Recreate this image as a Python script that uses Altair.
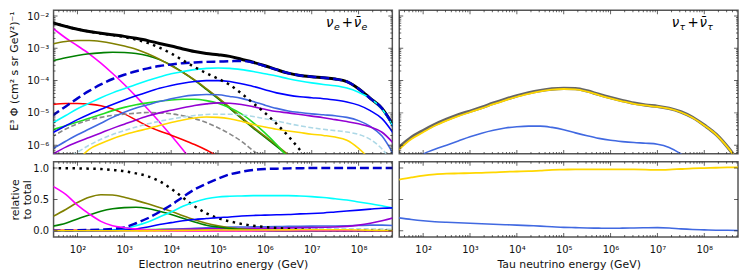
import altair as alt
import pandas as pd

# ---------------- data (log10 E grid and log10 flux values) ----------------
G = [1.45, 1.75, 2.0, 2.25, 2.5, 2.75, 3.0, 3.25, 3.5, 3.75, 4.0, 4.25, 4.5, 4.75,
     5.0, 5.25, 5.5, 5.75, 6.0, 6.25, 6.5, 6.75, 7.0, 7.25, 7.5, 7.75, 8.0, 8.25, 8.5, 8.75]

# electron neutrinos, E^3 Phi (log10), each list starts at the given grid value
E_TOTAL = (1.45, [-2.20, -2.32, -2.41, -2.48, -2.53, -2.58, -2.63, -2.69, -2.76, -2.85, -2.93, -3.02, -3.10, -3.16,
                  -3.20, -3.25, -3.34, -3.43, -3.54, -3.66, -3.77, -3.84, -3.88, -3.91, -3.95, -4.03, -4.25, -4.55,
                  -4.86, -5.42])
E_ASTRO = (1.45, [-5.10, -4.80, -4.55, -4.32, -4.12, -3.95, -3.82, -3.71, -3.62, -3.55, -3.50, -3.46, -3.44, -3.42,
                  -3.41, -3.40, -3.39, -3.44, -3.55, -3.66, -3.77, -3.84, -3.88, -3.91, -3.95, -4.03, -4.25, -4.55,
                  -4.86, -5.42])
E_CONV = (1.45, [-2.20, -2.32, -2.41, -2.48, -2.54, -2.59, -2.65, -2.73, -2.83, -2.98, -3.16, -3.37, -3.58, -3.77,
                 -3.94, -4.13, -4.40, -4.70, -5.00, -5.34, -5.72, -6.15, -6.60])
E_MAGENTA = (1.45, [-2.35, -2.68, -2.92, -3.17, -3.46, -3.78, -4.12, -4.49, -4.88, -5.28, -5.70, -6.14, -6.60])
E_OLIVE = (1.45, [-2.87, -2.79, -2.76, -2.76, -2.79, -2.85, -2.93, -3.03, -3.17, -3.34, -3.54, -3.75, -3.98, -4.25,
                  -4.53, -4.83, -5.14, -5.44, -5.72, -6.00, -6.30, -6.60])
E_DGREEN = (1.45, [-3.39, -3.29, -3.22, -3.17, -3.14, -3.12, -3.13, -3.16, -3.23, -3.35, -3.52, -3.74, -3.99, -4.27,
                   -4.56, -4.86, -5.17, -5.47, -5.75, -6.04, -6.34, -6.65])
E_RED = (1.45, [-4.74, -4.71, -4.71, -4.73, -4.78, -4.88, -5.03, -5.22, -5.41, -5.56, -5.69, -5.83, -5.98, -6.15,
                -6.35, -6.55])
E_CYAN = (1.45, [-5.33, -5.08, -4.87, -4.70, -4.53, -4.38, -4.25, -4.12, -4.00, -3.89, -3.79, -3.72, -3.66, -3.62,
                 -3.61, -3.62, -3.66, -3.72, -3.79, -3.86, -3.94, -4.01, -4.07, -4.12, -4.16, -4.23, -4.36, -4.55,
                 -4.88, -5.45])
E_BLUE = (1.45, [-5.63, -5.40, -5.21, -5.04, -4.89, -4.74, -4.60, -4.47, -4.35, -4.24, -4.15, -4.08, -4.03, -4.00,
                 -4.00, -4.03, -4.10, -4.18, -4.28, -4.38, -4.45, -4.50, -4.53, -4.56, -4.60, -4.66, -4.76, -4.93,
                 -5.18, -5.65])
E_LIME = (1.45, [-5.53, -5.40, -5.28, -5.17, -5.05, -4.93, -4.83, -4.75, -4.69, -4.64, -4.60, -4.58, -4.58, -4.62,
                 -4.70, -4.84, -5.03, -5.30, -5.62, -5.98, -6.40])
E_ROYAL = (1.45, [-6.13, -5.88, -5.68, -5.50, -5.32, -5.14, -4.98, -4.85, -4.75, -4.65, -4.56, -4.49, -4.45, -4.43,
                  -4.44, -4.49, -4.55, -4.65, -4.76, -4.86, -4.94, -4.99, -5.03, -5.06, -5.09, -5.14, -5.24, -5.42,
                  -5.72, -6.30])
E_PURPLE = (1.45, [-6.30, -6.06, -5.90, -5.76, -5.62, -5.48, -5.35, -5.22, -5.10, -5.00, -4.92, -4.84, -4.77, -4.72,
                   -4.69, -4.70, -4.74, -4.81, -4.89, -4.96, -5.00, -5.05, -5.10, -5.15, -5.21, -5.27, -5.34, -5.44,
                   -5.60, -5.95])
E_GRAY = (1.45, [-5.75, -5.50, -5.34, -5.22, -5.14, -5.08, -5.04, -5.01, -4.99, -5.00, -5.03, -5.09, -5.18, -5.30,
                 -5.46, -5.65, -5.88, -6.17, -6.45])
E_LBLUE = (1.75, [-6.45, -6.22, -6.00, -5.82, -5.67, -5.55, -5.44, -5.34, -5.26, -5.19, -5.13, -5.08, -5.05, -5.04,
                  -5.04, -5.06, -5.11, -5.18, -5.25, -5.33, -5.40, -5.46, -5.51, -5.55, -5.59, -5.67, -5.82, -6.12,
                  -6.60])
E_GOLD = (2.0, [-6.48, -6.13, -5.95, -5.80, -5.68, -5.58, -5.49, -5.39, -5.30, -5.22, -5.16, -5.13, -5.14, -5.18,
                -5.26, -5.36, -5.44, -5.51, -5.56, -5.61, -5.66, -5.70, -5.75, -5.85, -6.10, -6.45])

# electron neutrinos, relative to total
R_CONV = [0.999, 0.997, 0.995, 0.99, 0.985, 0.97, 0.95, 0.915, 0.87, 0.79, 0.67, 0.53, 0.39, 0.28, 0.20, 0.15,
          0.11, 0.08, 0.06, 0.045, 0.03, 0.02, 0.015, 0.01, 0.005, 0.003, 0.002, 0.001, 0.0, 0.0]
R_ASTRO = [0.001, 0.004, 0.008, 0.013, 0.02, 0.03, 0.055, 0.12, 0.20, 0.30, 0.41, 0.54, 0.66, 0.75, 0.83, 0.90,
           0.94, 0.97, 0.985, 0.99, 0.995, 0.998, 1.0, 1.0, 1.0, 1.0, 1.0, 1.0, 1.0, 1.0]
R_MAGENTA = [0.72, 0.58, 0.41, 0.27, 0.15, 0.08, 0.05, 0.03, 0.015, 0.008, 0.003, 0.001, 0.0, 0.0, 0.0, 0.0,
             0.0, 0.0, 0.0, 0.0, 0.0, 0.0, 0.0, 0.0, 0.0, 0.0, 0.0, 0.0, 0.0, 0.0]
R_OLIVE = [0.22, 0.34, 0.45, 0.535, 0.575, 0.57, 0.535, 0.485, 0.43, 0.37, 0.31, 0.24, 0.175, 0.12, 0.08, 0.05,
           0.03, 0.015, 0.008, 0.004, 0.002, 0.0, 0.0, 0.0, 0.0, 0.0, 0.0, 0.0, 0.0, 0.0]
R_DGREEN = [0.07, 0.12, 0.19, 0.25, 0.31, 0.35, 0.37, 0.375, 0.355, 0.31, 0.26, 0.20, 0.14, 0.09, 0.06, 0.035,
            0.02, 0.01, 0.005, 0.002, 0.0, 0.0, 0.0, 0.0, 0.0, 0.0, 0.0, 0.0, 0.0, 0.0]
R_CYAN = [0.0, 0.001, 0.002, 0.004, 0.008, 0.015, 0.035, 0.08, 0.14, 0.22, 0.30, 0.39, 0.46, 0.51, 0.54, 0.55,
          0.555, 0.56, 0.56, 0.56, 0.56, 0.555, 0.545, 0.53, 0.51, 0.49, 0.46, 0.43, 0.40, 0.36]
R_BLUE = [0.0, 0.001, 0.002, 0.003, 0.004, 0.006, 0.012, 0.03, 0.06, 0.10, 0.13, 0.16, 0.18, 0.195, 0.21, 0.22,
          0.235, 0.245, 0.25, 0.255, 0.26, 0.27, 0.275, 0.285, 0.30, 0.315, 0.33, 0.345, 0.36, 0.365]
R_ROYAL = [0.0, 0.0, 0.001, 0.002, 0.003, 0.004, 0.006, 0.008, 0.012, 0.018, 0.025, 0.033, 0.04, 0.047, 0.055,
           0.058, 0.06, 0.062, 0.063, 0.066, 0.07, 0.073, 0.075, 0.076, 0.077, 0.08, 0.085, 0.09, 0.09, 0.085]
R_PURPLE = [0.0, 0.0, 0.0, 0.001, 0.002, 0.003, 0.005, 0.008, 0.012, 0.016, 0.02, 0.024, 0.027, 0.03, 0.032,
            0.034, 0.036, 0.038, 0.04, 0.043, 0.047, 0.05, 0.053, 0.056, 0.06, 0.07, 0.09, 0.12, 0.16, 0.21]
R_LIME = [0.0, 0.001, 0.001, 0.002, 0.004, 0.006, 0.01, 0.015, 0.02, 0.022, 0.024, 0.027, 0.03, 0.031, 0.03,
          0.027, 0.022, 0.015, 0.008, 0.004, 0.001, 0.0, 0.0, 0.0, 0.0, 0.0, 0.0, 0.0, 0.0, 0.0]
R_RED = [0.006, 0.008, 0.008, 0.007, 0.006, 0.005, 0.004, 0.003, 0.002, 0.002, 0.001, 0.001, 0.001, 0.0, 0.0,
         0.0, 0.0, 0.0, 0.0, 0.0, 0.0, 0.0, 0.0, 0.0, 0.0, 0.0, 0.0, 0.0, 0.0, 0.0]
R_GRAY = [0.0005, 0.001, 0.001, 0.002, 0.002, 0.003, 0.004, 0.006, 0.008, 0.01, 0.011, 0.012, 0.012, 0.011,
          0.009, 0.007, 0.005, 0.003, 0.002, 0.001, 0.0, 0.0, 0.0, 0.0, 0.0, 0.0, 0.0, 0.0, 0.0, 0.0]
R_LBLUE = [0.0, 0.0, 0.0, 0.001, 0.001, 0.001, 0.002, 0.003, 0.004, 0.005, 0.006, 0.008, 0.01, 0.012, 0.014,
           0.016, 0.018, 0.019, 0.02, 0.022, 0.024, 0.027, 0.029, 0.031, 0.032, 0.033, 0.032, 0.03, 0.027, 0.022]
R_GOLD = [0.0, 0.0, 0.0, 0.0, 0.001, 0.001, 0.002, 0.002, 0.003, 0.004, 0.005, 0.007, 0.009, 0.011, 0.012,
          0.013, 0.013, 0.013, 0.013, 0.014, 0.015, 0.016, 0.017, 0.018, 0.018, 0.017, 0.014, 0.01, 0.006, 0.004]

# tau neutrinos
T_TOTAL = (1.45, [-6.12, -5.76, -5.55, -5.36, -5.20, -5.06, -4.95, -4.83, -4.70, -4.58, -4.47, -4.38, -4.31, -4.26,
                  -4.24, -4.25, -4.32, -4.43, -4.53, -4.62, -4.70, -4.76, -4.80, -4.86, -4.97, -5.14, -5.38, -5.66,
                  -6.06, -6.55])
T_GOLD = (1.45, [-6.18, -5.81, -5.60, -5.40, -5.24, -5.10, -4.98, -4.86, -4.73, -4.61, -4.50, -4.41, -4.33, -4.28,
                 -4.26, -4.27, -4.34, -4.45, -4.55, -4.64, -4.72, -4.77, -4.81, -4.87, -4.98, -5.15, -5.39, -5.67,
                 -6.07, -6.56])
T_ROYAL = (1.75, [-6.60, -6.28, -6.13, -6.00, -5.87, -5.74, -5.63, -5.54, -5.47, -5.43, -5.41, -5.41, -5.45, -5.52,
                  -5.62, -5.71, -5.79, -5.85, -5.89, -5.92, -5.94, -5.97, -6.07, -6.27, -6.55])
RT_GOLD = [0.81, 0.85, 0.88, 0.90, 0.91, 0.915, 0.92, 0.925, 0.93, 0.94, 0.945, 0.95, 0.96, 0.97, 0.975, 0.98,
           0.98, 0.98, 0.98, 0.98, 0.978, 0.975, 0.97, 0.975, 0.985, 0.995, 1.0, 1.005, 1.01, 1.01]
RT_ROYAL = [0.21, 0.18, 0.16, 0.145, 0.135, 0.127, 0.12, 0.112, 0.105, 0.097, 0.09, 0.082, 0.075, 0.065, 0.055,
            0.05, 0.045, 0.042, 0.04, 0.042, 0.045, 0.048, 0.05, 0.045, 0.03, 0.02, 0.015, 0.01, 0.008, 0.005]

# axis ticks
X_MAJOR = [1e2, 1e3, 1e4, 1e5, 1e6, 1e7, 1e8]
X_MINOR = [m * 10.0 ** k for k in range(1, 9) for m in range(2, 10)]
YT_MAJOR = [1e-6, 1e-5, 1e-4, 1e-3, 1e-2]
YT_MINOR = [m * 10.0 ** k for k in range(-7, -1) for m in range(2, 10)]
YB_MAJOR = [0.0, 0.5, 1.0]

# ---------------- layout / style ----------------
W, HT, HB = 342, 145, 76
X_DOM = [10 ** 1.49, 10 ** 8.72]
YT_DOM = [10 ** -6.27, 10 ** -1.82]
YB_DOM = [-0.1, 1.1]
FONT = "DejaVu Sans"
TICK = "#222222"
SUP = "['⁰','¹','²','³','⁴','⁵','⁶','⁷','⁸','⁹']"

XS = alt.Scale(type="log", domain=X_DOM, nice=False)
YTS = alt.Scale(type="log", domain=YT_DOM, nice=False)
YBS = alt.Scale(domain=YB_DOM, nice=False, zero=False)


def x_bottom_axis(title):
    return alt.Axis(
        values=X_MAJOR, labelExpr="'10' + " + SUP + "[round(log(datum.value)/LN10)]",
        ticks=False, domain=False, grid=False, labelPadding=8, labelFontSize=10, labelFlush=False,
        labelOverlap=False, title=title, titleFontSize=11, titleFontWeight="normal", titlePadding=4,
    )


YT_AXIS = alt.Axis(
    values=YT_MAJOR, labelExpr="'10⁻' + " + SUP + "[round(-log(datum.value)/LN10)]",
    ticks=False, domain=False, grid=False, labelPadding=5, labelFontSize=10, labelOverlap=False,
    title="E³ Φ (cm² s sr GeV²)⁻¹", titleFontSize=11, titleFontWeight="normal",
    titleAngle=270, titleAlign="center", titleBaseline="middle", titleX=-39, titleY=61,
)

YB_AXIS = alt.Axis(
    values=YB_MAJOR, format=".1f", ticks=False, domain=False, grid=False, labelPadding=5,
    labelFontSize=10, title=["relative", "to total"], titleFontSize=11, titleFontWeight="normal",
    titleAngle=270, titleAlign="center", titleBaseline="middle", titleX=-38.5, titleY=38,
    titleLineHeight=12,
)


class Panel:
    def __init__(self, top, xaxis, yaxis):
        self.top = top
        self.xaxis = xaxis
        self.yaxis = yaxis
        self.ys = YTS if top else YBS
        self.h = HT if top else HB
        self.layers = []

    def line(self, series, color, width, dash=None):
        start, vals = series
        i0 = G.index(start)
        xs = G[i0:i0 + len(vals)]
        df = pd.DataFrame({"E": [10 ** x for x in xs],
                           "F": [10 ** v for v in vals] if self.top else vals})
        mk = dict(color=color, strokeWidth=width, clip=True, interpolate="monotone")
        if dash:
            mk["strokeDash"] = dash
        self.layers.append(alt.Chart(df).mark_line(**mk).encode(
            x=alt.X("E:Q", scale=XS, axis=self.xaxis),
            y=alt.Y("F:Q", scale=self.ys, axis=self.yaxis),
        ))

    def _xt(self, vals, pos, size):
        self.layers.append(alt.Chart(pd.DataFrame({"E": vals})).mark_tick(
            orient="vertical", size=size, thickness=1, color=TICK, clip=True
        ).encode(x=alt.X("E:Q", scale=XS, axis=self.xaxis), y=alt.value(pos)))

    def _yt(self, vals, pos, size):
        self.layers.append(alt.Chart(pd.DataFrame({"F": vals})).mark_tick(
            orient="horizontal", size=size, thickness=1, color=TICK, clip=True
        ).encode(y=alt.Y("F:Q", scale=self.ys, axis=self.yaxis), x=alt.value(pos)))

    def frame_ticks(self):
        for pos in (0, self.h):
            self._xt(X_MAJOR, pos, 8)
            self._xt(X_MINOR, pos, 4)
        for pos in (0, W):
            if self.top:
                self._yt(YT_MAJOR, pos, 8)
                self._yt(YT_MINOR, pos, 4)
            else:
                self._yt(YB_MAJOR, pos, 8)

    def txt(self, t, x, y, size, italic=True):
        self.layers.append(alt.Chart(pd.DataFrame({"a": [0]})).mark_text(
            text=t, font=FONT, fontSize=size, fontStyle="italic" if italic else "normal",
            align="left", baseline="alphabetic", color="black"
        ).encode(x=alt.value(x), y=alt.value(y)))

    def annotation(self, sub):
        self.txt("ν", 275, 17, 13.5)
        self.txt(sub, 283, 20, 9.5)
        self.txt("+", 291, 17, 13.5, italic=False)
        self.txt("ν\u0304", 303, 17, 13.5)
        self.txt(sub, 311, 20, 9.5)

    def chart(self):
        return alt.layer(*self.layers).properties(width=W, height=self.h)


def rel(vals):
    return (1.45, vals)


# ---------------- panels ----------------
tl = Panel(True, None, YT_AXIS)
tl.line(E_TOTAL, "black", 3.0)
tl.line(E_MAGENTA, "#ff00ff", 1.6)
tl.line(E_DGREEN, "#008000", 1.6)
tl.line(E_OLIVE, "#808000", 1.6)
tl.line(E_RED, "#ff0000", 1.6)
tl.line(E_LIME, "#22dd22", 1.6)
tl.line(E_GRAY, "#888888", 1.6, dash=[5, 2.5])
tl.line(E_ROYAL, "#4169e1", 1.6)
tl.line(E_PURPLE, "#9400d3", 1.6)
tl.line(E_LBLUE, "#add8e6", 1.6, dash=[5, 2.5])
tl.line(E_GOLD, "#ffd700", 1.6)
tl.line(E_BLUE, "#0000ff", 1.6)
tl.line(E_CYAN, "#00ffff", 1.6)
tl.line(E_ASTRO, "#0000cd", 2.5, dash=[9, 4])
tl.line(E_CONV, "black", 2.5, dash=[2.5, 4.5])
tl.frame_ticks()
tl.annotation("e")

tr = Panel(True, None, None)
tr.line(T_TOTAL, "#666666", 3.4)
tr.line(T_GOLD, "#ffd700", 1.8)
tr.line(T_ROYAL, "#4169e1", 1.6)
tr.frame_ticks()
tr.annotation("τ")

bl = Panel(False, x_bottom_axis("Electron neutrino energy (GeV)"), YB_AXIS)
bl.line(rel(R_RED), "#ff0000", 1.6)
bl.line(rel(R_GRAY), "#888888", 1.6, dash=[5, 2.5])
bl.line(rel(R_LIME), "#22dd22", 1.6)
bl.line(rel(R_LBLUE), "#add8e6", 1.6, dash=[5, 2.5])
bl.line(rel(R_ROYAL), "#4169e1", 1.6)
bl.line(rel(R_PURPLE), "#9400d3", 1.6)
bl.line(rel(R_CONV), "black", 2.5, dash=[2.5, 4.5])
bl.line(rel(R_OLIVE), "#808000", 1.6)
bl.line(rel(R_DGREEN), "#008000", 1.6)
bl.line(rel(R_CYAN), "#00ffff", 1.6)
bl.line(rel(R_BLUE), "#0000ff", 1.6)
bl.line(rel(R_ASTRO), "#0000cd", 2.5, dash=[9, 4])
bl.line(rel(R_MAGENTA), "#ff00ff", 1.6)
bl.line(rel(R_GOLD), "#ffd700", 1.6)
bl.frame_ticks()

br = Panel(False, x_bottom_axis("Tau neutrino energy (GeV)"), None)
br.line(rel(RT_GOLD), "#ffd700", 1.8)
br.line(rel(RT_ROYAL), "#4169e1", 1.6)
br.frame_ticks()

chart = alt.concat(
    tl.chart(), tr.chart(), bl.chart(), br.chart(),
    columns=2, spacing={"row": 8, "column": 7}, bounds="flush"
).properties(
    padding={"left": 0, "top": 0, "right": 0, "bottom": 0}
).configure_view(
    stroke="#555555", strokeWidth=1.5
).configure_axis(
    labelFont=FONT, titleFont=FONT, labelColor="#111111", titleColor="#111111"
)

chart.save("out.html", embed_options={"renderer": "svg", "actions": False})
